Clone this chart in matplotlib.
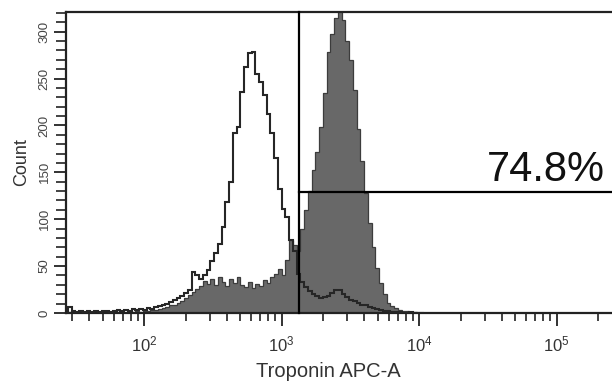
import numpy as np
import matplotlib
matplotlib.use("Agg")
import matplotlib.pyplot as plt
from matplotlib.ticker import LogLocator, MultipleLocator, NullFormatter, LogFormatterSciNotation, FixedLocator

plt.rcParams['font.family'] = ['Liberation Sans', 'DejaVu Sans']
plt.rcParams['mathtext.fontset'] = 'custom'
plt.rcParams['mathtext.rm'] = 'Liberation Sans'
plt.rcParams['mathtext.it'] = 'Liberation Sans'

# histogram bins: log10 channel start and width
bin_start_log = 1.4453
bin_width_log = 0.02727

# unstained / control (open curve)
control_counts = [6, 2, 1, 2, 1, 2, 1, 2, 1, 2,
                  2, 1, 2, 3, 2, 3, 2, 4, 3, 4,
                  3, 5, 4, 6, 7, 8, 10, 12, 14, 16,
                  18, 21, 25, 44, 40, 36, 41, 46, 55, 64,
                  74, 92, 118, 140, 192, 198, 236, 262, 277, 278,
                  255, 246, 233, 212, 192, 165, 132, 111, 102, 78,
                  66, 42, 33, 28, 23, 20, 18, 16, 17, 18,
                  21, 25, 24, 20, 17, 14, 13, 11, 9, 8,
                  6, 5, 4, 3, 2, 2, 1, 1, 1, 0,
                  0, 1, 0, 0, 0]

# Troponin stained sample (filled)
sample_counts = [1, 0, 0, 1, 0, 0, 1, 0, 0, 1,
                 0, 1, 0, 1, 1, 0, 1, 1, 2, 1,
                 2, 2, 3, 3, 4, 5, 6, 8, 9, 11,
                 13, 16, 19, 22, 26, 29, 34, 31, 36, 30,
                 38, 33, 29, 36, 32, 38, 30, 28, 33, 27,
                 31, 29, 35, 32, 38, 42, 47, 40, 56, 78,
                 72, 66, 90, 110, 130, 152, 172, 198, 235, 278,
                 298, 315, 322, 312, 290, 270, 238, 196, 162, 128,
                 96, 70, 48, 32, 20, 11, 7, 5, 3, 2,
                 2, 1, 1, 0, 0]

gate_x = 1340.0
gate_y = 129.0
gate_label = "74.8%"
gate_label_x = 10 ** 4.493

x_major_ticks = [1e2, 1e3, 1e4, 1e5]
x_label = "Troponin APC-A"
y_label = "Count"

W, H = 612, 388
fig = plt.figure(figsize=(W / 100, H / 100), dpi=100)

# axes geometry (pixel mapping: decade = 137.5 px, 10^3 at x=281.7)
DEC = 137.5
X3 = 281.7
x_left_px = 66.0
x_right_px = X3 + 3 * DEC   # 10^6
ax = fig.add_axes([x_left_px / W, 1 - 313.0 / H, (x_right_px - x_left_px) / W, (313.0 - 12.0) / H])
xmin = 10 ** (3 + (x_left_px - X3) / DEC)
ax.set_xscale('log')
ax.set_xlim(xmin, 1e6)
ax.set_ylim(0, 321)

n = len(control_counts)
edges = 10 ** (bin_start_log + bin_width_log * np.arange(n + 1))

ax.stairs(sample_counts, edges, fill=True, facecolor='#686868', edgecolor='#686868', zorder=2)
ax.stairs(sample_counts, edges, fill=False, color='#3c3c3c', linewidth=0.9, zorder=2.5)
ax.stairs(control_counts, edges, fill=False, color='#262626', linewidth=1.5, zorder=3)

# gate
ax.plot([gate_x, gate_x], [0, 321], color='black', linewidth=1.6, zorder=4, clip_on=False)
ax.plot([gate_x, 1e6], [gate_y, gate_y], color='black', linewidth=1.6, zorder=4)
ax.text(gate_label_x, gate_y + 2.5, gate_label, fontsize=30, color='#111111',
        ha='left', va='bottom', zorder=5)

# spines
for s in ['left', 'top', 'bottom']:
    ax.spines[s].set_linewidth(1.6)
    ax.spines[s].set_color('#222222')
ax.spines['right'].set_visible(False)

# ticks
ax.xaxis.set_major_locator(FixedLocator(x_major_ticks))
ax.xaxis.set_minor_locator(LogLocator(base=10, subs=np.arange(2, 10), numticks=20))
ax.xaxis.set_minor_formatter(NullFormatter())
ax.xaxis.set_major_formatter(LogFormatterSciNotation())
ax.yaxis.set_major_locator(MultipleLocator(50))
ax.yaxis.set_minor_locator(MultipleLocator(10))

ax.tick_params(axis='x', which='major', direction='out', length=9.5, width=1.3, color='#222222',
               labelsize=12, labelcolor='#333333', pad=6)
ax.tick_params(axis='x', which='minor', direction='out', length=5.8, width=1.2, color='#222222')
ax.tick_params(axis='y', which='major', direction='out', length=9.0, width=1.3, color='#222222',
               labelsize=9.5, labelcolor='#444444', pad=2)
ax.tick_params(axis='y', which='minor', direction='out', length=7.0, width=1.2, color='#222222')
for lab in ax.get_yticklabels():
    lab.set_rotation(90)
    lab.set_va('center')

ax.set_xlabel(x_label, fontsize=14.5, color='#333333')
ax.set_ylabel(y_label, fontsize=13, color='#333333', labelpad=6)
ax.xaxis.set_label_coords((328 - x_left_px) / (x_right_px - x_left_px), -(362 - 313) / 301.0)

fig.savefig('out.png', dpi=100)
